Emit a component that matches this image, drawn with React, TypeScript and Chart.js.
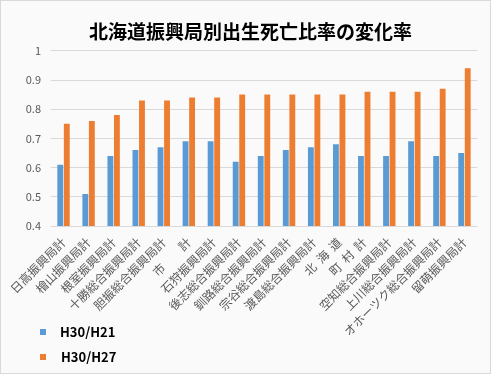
import React, { useEffect, useRef } from 'react';
import { Chart, registerables } from 'chart.js';

Chart.register(...registerables);

const categories = [
  '日高振興局計',
  '檜山振興局計',
  '根室振興局計',
  '十勝総合振興局計',
  '胆振総合振興局計',
  '市　　計',
  '石狩振興局計',
  '後志総合振興局計',
  '釧路総合振興局計',
  '宗谷総合振興局計',
  '渡島総合振興局計',
  '北  海  道',
  '町  村  計',
  '空知総合振興局計',
  '上川総合振興局計',
  'オホーツク総合振興局計',
  '留萌振興局計',
];

const seriesNames = ['H30/H21', 'H30/H27'];
const h30h21 = [0.61, 0.51, 0.64, 0.66, 0.67, 0.69, 0.69, 0.62, 0.64, 0.66, 0.67, 0.68, 0.64, 0.64, 0.69, 0.64, 0.65];
const h30h27 = [0.75, 0.76, 0.78, 0.83, 0.83, 0.84, 0.84, 0.85, 0.85, 0.85, 0.85, 0.85, 0.86, 0.86, 0.86, 0.87, 0.94];
const colors = ['#5b9bd5', '#ed7d31'];
const yMin = 0.4;
const yMax = 1;
const yStep = 0.1;
const title = '北海道振興局別出生死亡比率の変化率';

const FONT = '"Noto Sans CJK JP", "Noto Sans", sans-serif';

export default function App() {
  const ref = useRef<HTMLCanvasElement>(null);
  useEffect(() => {
    document.body.style.margin = '0';
    const chart = new Chart(ref.current!, {
      type: 'bar',
      data: {
        labels: categories,
        datasets: [
          { label: seriesNames[0], data: h30h21, backgroundColor: colors[0], categoryPercentage: 0.52, barPercentage: 0.9 },
          { label: seriesNames[1], data: h30h27, backgroundColor: colors[1], categoryPercentage: 0.52, barPercentage: 0.9 },
        ],
      },
      options: {
        responsive: false,
        animation: false,
        layout: { padding: { left: 24, right: 14, top: 0, bottom: 8 } },
        plugins: {
          legend: { display: false },
          tooltip: { enabled: false },
          title: {
            display: true,
            text: title,
            color: '#000',
            font: { family: FONT, size: 19, weight: 'bold' },
            padding: { top: 20, bottom: 8 },
          },
        },
        scales: {
          x: {
            grid: { display: false, drawTicks: false },
            border: { display: false },
            ticks: {
              autoSkip: false,
              minRotation: 45,
              maxRotation: 45,
              color: '#595959',
              font: { family: FONT, size: 12 },
              padding: 9,
            },
            afterFit: (s: any) => { s.height = 140; },
          },
          y: {
            min: yMin,
            max: yMax,
            grid: { color: '#d9d9d9', drawTicks: false, lineWidth: 1 },
            border: { display: false },
            ticks: {
              stepSize: yStep,
              color: '#595959',
              font: { family: FONT, size: 11 },
              padding: 10,
              callback: (v: any) => String(parseFloat(Number(v).toFixed(2))),
            },
            afterFit: (s: any) => { s.width = 27; },
          },
        },
      },
    });
    return () => chart.destroy();
  }, []);

  const legendItem = (i: number, top: number, left: number) => (
    <div key={i} style={{ position: 'absolute', top, left: 40, height: 14, display: 'flex', alignItems: 'center' }}>
      <div style={{ width: 6, height: 6, background: colors[i] }} />
      <span style={{ marginLeft: left - 46, fontFamily: FONT, fontWeight: 'bold', fontSize: 13, color: '#000', lineHeight: '14px' }}>
        {seriesNames[i]}
      </span>
    </div>
  );

  return (
    <div style={{ position: 'absolute', left: 0, top: 0, width: 491, height: 374, background: '#fafafa' }}>
      <canvas ref={ref} width={491} height={374} style={{ position: 'absolute', left: 0, top: 0 }} />
      {legendItem(0, 325, 60)}
      {legendItem(1, 350, 61)}
      <div style={{ position: 'absolute', left: 0, top: 0, width: 491, height: 374, boxSizing: 'border-box', border: '1px solid #d9d9d9', pointerEvents: 'none' }} />
    </div>
  );
}
